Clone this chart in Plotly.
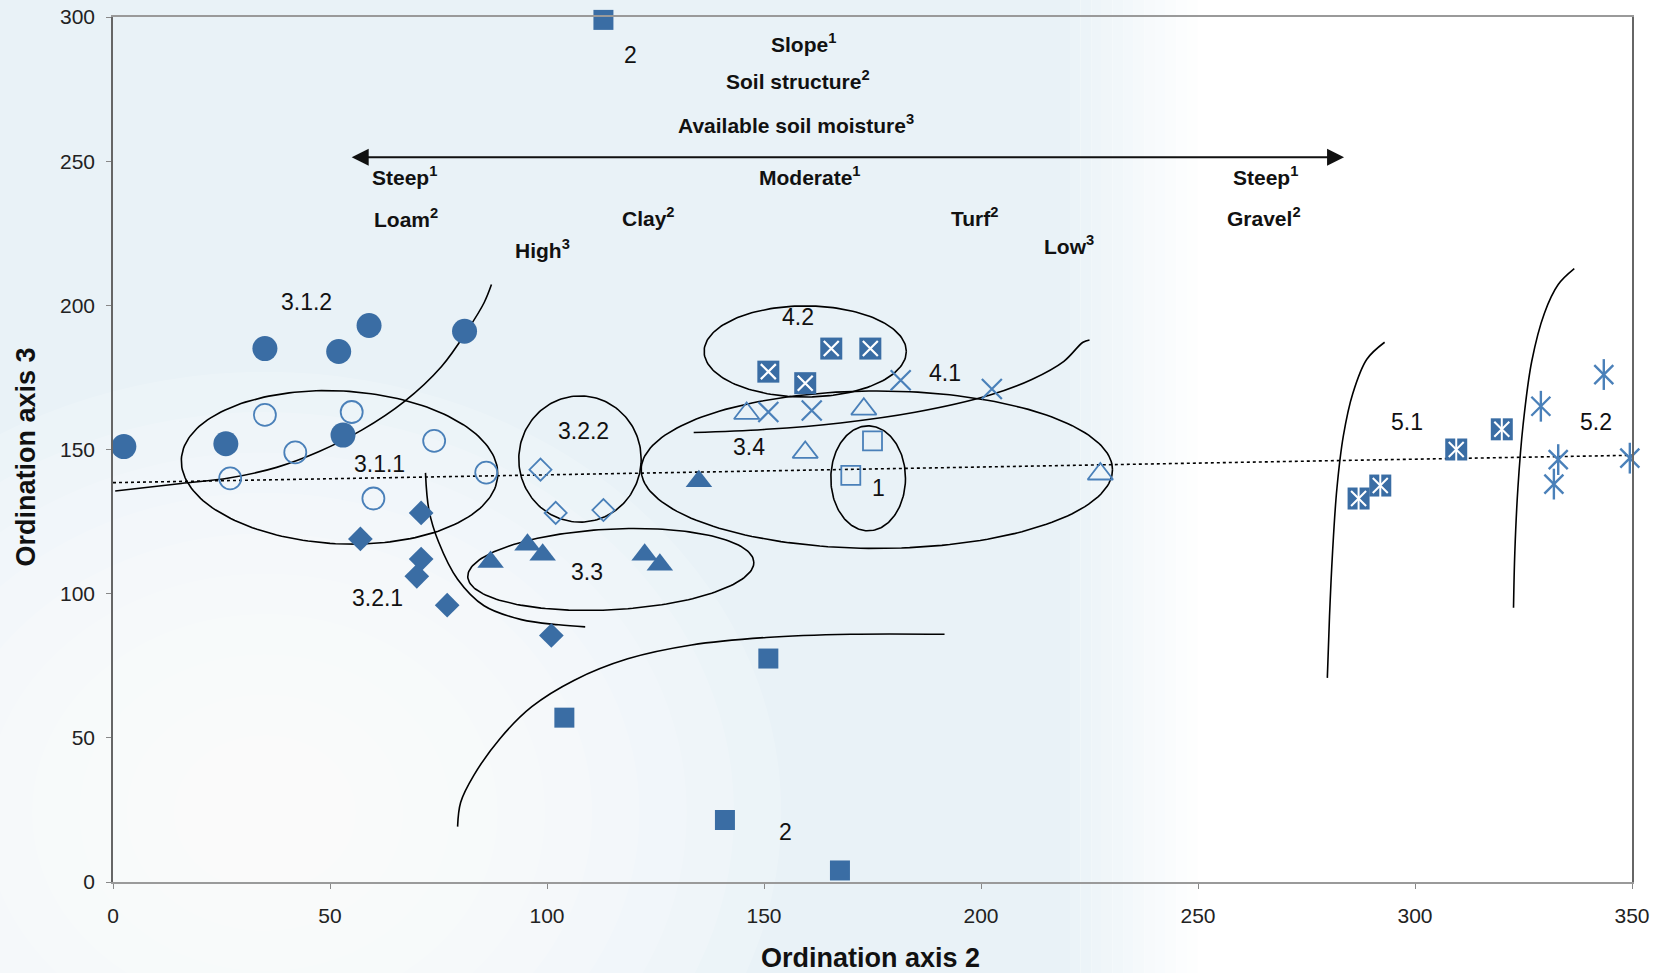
import numpy as np
import plotly.graph_objects as go

# ---------------- data ----------------
circle_filled_x = [2.5, 26, 35, 52, 59, 53, 81]
circle_filled_y = [151, 152, 185, 184, 193, 155, 191]
circle_open_x = [35, 27, 42, 55, 60, 74, 86]
circle_open_y = [162, 140, 149, 163, 133, 153, 142]
diamond_filled_x = [57, 71, 71, 70, 77, 101]
diamond_filled_y = [119, 128, 112, 106, 96, 85.5]
diamond_open_x = [98.5, 102, 113]
diamond_open_y = [143, 128, 129]
tri_filled_x = [87, 95.5, 99, 122.5, 126, 135]
tri_filled_y = [111, 117, 113.5, 113.5, 110, 139]
tri_open_x = [146, 159.5, 173, 227.5]
tri_open_y = [162.5, 149, 164, 141.5]
xmark_x = [151, 161, 181.5, 202.5]
xmark_y = [163, 163.5, 174, 171]
sq_open_x = [170, 175]
sq_open_y = [141, 153]
sq_filled_x = [113, 151, 104, 141, 167.5]
sq_filled_y = [299, 77.5, 57, 21.5, 4]
sqx_x = [151, 159.5, 165.5, 174.5]
sqx_y = [177, 173, 185, 185]
sqstar_x = [287, 292, 309.5, 320]
sqstar_y = [133, 137.5, 150, 157]
star_x = [329, 343.5, 333, 332, 349.5]
star_y = [165, 176, 146.5, 138, 147]

trend_x = [0, 350]
trend_y = [138.5, 148]

# group ellipses: name, centre x, centre y, semi-axis x, semi-axis y, tilt (deg)
ellipses = [
    ("3.1.1", 52.2, 143.8, 36.5, 26.5, -3),
    ("3.2.2", 107.6, 146.7, 14.1, 21.9, 0),
    ("3.3", 114.7, 108.4, 33.0, 14.0, 3),
    ("3.4", 176.0, 143.0, 54.3, 27.3, 0),
    ("4.2", 159.5, 184.0, 23.3, 15.8, 0),
    ("1", 174.0, 140.0, 8.6, 18.2, 0),
]

# hand-drawn boundary curves
curve_a_x = [0.5, 15.7, 26.7, 37.7, 47.5, 57.3, 67.1, 75.7, 81.8, 85.5, 87.2]
curve_a_y = [135.6, 138.2, 140.1, 143.8, 149.3, 156.7, 166.6, 178.8, 191.7, 200.9, 207.2]
curve_b_x = [72.0, 72.8, 75.0, 79.4, 85.5, 94.1, 102.7, 108.8]
curve_b_y = [141.9, 129.0, 118.0, 105.0, 95.8, 91.0, 89.2, 88.5]
curve_c_x = [79.4, 80.1, 83.1, 89.2, 96.5, 106.3, 118.6, 133.3, 150.5, 170.0, 191.6]
curve_c_y = [19.2, 27.6, 36.9, 49.8, 60.8, 70.0, 77.4, 82.2, 84.8, 85.9, 85.9]
curve_d_x = [133.8, 150.5, 167.6, 184.8, 201.9, 211.7, 219.1, 223.5, 225.0]
curve_d_y = [155.9, 157.0, 159.2, 162.9, 168.8, 174.3, 180.6, 187.2, 188.0]
curve_e_x = [279.8, 280.3, 281.0, 282.0, 283.5, 285.7, 288.9, 293.0]
curve_e_y = [70.8, 92.1, 114.3, 136.4, 154.8, 169.6, 181.3, 187.2]
curve_f_x = [322.7, 323.0, 323.7, 324.9, 326.9, 329.8, 333.0, 336.7]
curve_f_y = [95.1, 114.3, 136.4, 158.5, 180.6, 197.2, 207.2, 212.7]

group_labels = ["3.1.2", "3.1.1", "3.2.1", "3.2.2", "3.3", "3.4", "4.2", "4.1", "1", "5.1", "5.2", "2", "2"]
group_label_x = [44.6, 61.3, 61.0, 108.3, 109.3, 146.5, 157.8, 191.6, 176.4, 298.2, 341.6, 119.3, 154.9]
group_label_y = [201, 144.9, 98.4, 156.3, 107.6, 151, 196, 176.6, 136.7, 159.6, 159.6, 286.8, 17.3]

gradient_labels = ["Slope<sup>1</sup>", "Soil structure<sup>2</sup>", "Available soil moisture<sup>3</sup>",
                   "Steep<sup>1</sup>", "Loam<sup>2</sup>", "High<sup>3</sup>", "Clay<sup>2</sup>",
                   "Moderate<sup>1</sup>", "Turf<sup>2</sup>", "Low<sup>3</sup>", "Steep<sup>1</sup>",
                   "Gravel<sup>2</sup>"]
gradient_label_x = [159, 157.8, 157.3, 67.1, 67.6, 99, 123.5, 160.7, 198.5, 220.3, 265.6, 265.1]
gradient_label_y = [291, 278, 262.8, 244.7, 230.4, 219.7, 230.7, 244.7, 230.7, 220.8, 244.7, 230.7]

arrow_x = [55, 284]
arrow_y = 251.4

x_ticks = [0, 50, 100, 150, 200, 250, 300, 350]
y_ticks = [0, 50, 100, 150, 200, 250, 300]

# ---------------- styling ----------------
BLUE = "#3a6da4"
OBLUE = "#4a80b9"
FONT = "Liberation Sans, Arial, sans-serif"
PX_X = 1519.0 / 350.0
PX_Y = 865.0 / 300.0

fig = go.Figure()


def add_pts(x, y, symbol, size, color=BLUE, line_color=None, lw=0, cl=True):
    fig.add_trace(go.Scatter(
        x=x, y=y, mode="markers", cliponaxis=cl, hoverinfo="skip",
        marker=dict(symbol=symbol, size=size, color=color,
                    line=dict(color=line_color or color, width=lw)),
        showlegend=False))


def add_line(x, y, dash="solid", width=1.6, color="black", shape="spline"):
    fig.add_trace(go.Scatter(x=x, y=y, mode="lines", hoverinfo="skip", showlegend=False,
                             line=dict(color=color, width=width, dash=dash, shape=shape)))


# trend line
add_line(trend_x, trend_y, dash="dot", width=1.6, shape="linear")

# ellipses
t = np.linspace(0, 2 * np.pi, 181)
for name, cx, cy, rx, ry, ang in ellipses:
    a = np.deg2rad(ang)
    px = rx * PX_X * np.cos(t)
    py = ry * PX_Y * np.sin(t)
    qx = px * np.cos(a) - py * np.sin(a)
    qy = px * np.sin(a) + py * np.cos(a)
    add_line(cx + qx / PX_X, cy + qy / PX_Y, shape="linear")

for cx_, cy_ in [(curve_a_x, curve_a_y), (curve_b_x, curve_b_y), (curve_c_x, curve_c_y),
                 (curve_d_x, curve_d_y), (curve_e_x, curve_e_y), (curve_f_x, curve_f_y)]:
    add_line(cx_, cy_)

# markers
add_pts(circle_filled_x, circle_filled_y, "circle", 25)
add_pts(circle_open_x, circle_open_y, "circle-open", 22, color=OBLUE, lw=1.8)
add_pts(diamond_filled_x, diamond_filled_y, "diamond", 19)
add_pts(diamond_open_x, diamond_open_y, "diamond-open", 17, color=OBLUE, lw=1.8)
add_pts(tri_filled_x, tri_filled_y, "triangle-up", 23)
add_pts(tri_open_x, tri_open_y, "triangle-up-open", 22, color=OBLUE, lw=1.8)
add_pts(xmark_x, xmark_y, "x-thin-open", 20, color=OBLUE, lw=2.2)
add_pts(sq_open_x, sq_open_y, "square-open", 19, color=OBLUE, lw=1.8)
add_pts(sq_filled_x, sq_filled_y, "square", 20, cl=False)
add_pts(sqx_x, sqx_y, "square", 22)
add_pts(sqx_x, sqx_y, "x-thin-open", 15, color="white", lw=2.2)
add_pts(sqstar_x, sqstar_y, "square", 22)
add_pts(sqstar_x, sqstar_y, "x-thin-open", 15, color="white", lw=2.0)
add_pts(sqstar_x, sqstar_y, "line-ns-open", 17, color="white", lw=2.0)
add_pts(star_x, star_y, "x-thin-open", 19, color=OBLUE, lw=2.4, cl=False)
add_pts(star_x, star_y, "line-ns-open", 22, color=OBLUE, lw=2.4, cl=False)

annotations = []
for txt, x, y in zip(group_labels, group_label_x, group_label_y):
    annotations.append(dict(x=x, y=y, text=txt, showarrow=False, xref="x", yref="y",
                            font=dict(family=FONT, size=23, color="#111")))
for txt, x, y in zip(gradient_labels, gradient_label_x, gradient_label_y):
    annotations.append(dict(x=x, y=y, text="<b>" + txt + "</b>", showarrow=False, xref="x", yref="y",
                            font=dict(family=FONT, size=21, color="#111")))
annotations.append(dict(x=arrow_x[0], y=arrow_y, ax=arrow_x[1], ay=arrow_y, xref="x", yref="y",
                        axref="x", ayref="y", text="", showarrow=True, arrowhead=2,
                        arrowside="end+start", arrowsize=1.7, arrowwidth=2, arrowcolor="#111"))
annotations.append(dict(x=0.499, y=-0.107, xref="paper", yref="paper", showarrow=False,
                        text="<b>Ordination axis 2</b>", font=dict(family=FONT, size=27, color="#111")))
annotations.append(dict(x=-0.0686, y=0.4916, xref="paper", yref="paper", showarrow=False, textangle=-90,
                        text="<b>Ordination axis 3</b>", font=dict(family=FONT, size=27, color="#111")))

# background: light blue scan tint fading to white on the right and lower left
BG = (233, 242, 247)
shapes = [dict(type="rect", xref="paper", yref="paper", x0=-0.1, x1=0.63, y0=-0.12, y1=1.03,
               fillcolor="rgb(%d,%d,%d)" % BG, line=dict(width=0), layer="below")]
steps = 12
for i in range(steps):
    f = (i + 1) / (steps + 1)
    c = tuple(int(round(b + (255 - b) * f)) for b in BG)
    shapes.append(dict(type="rect", xref="paper", yref="paper", x0=0.63 + i * 0.007, x1=0.63 + (i + 1) * 0.007,
                       y0=-0.12, y1=1.03, fillcolor="rgb(%d,%d,%d)" % c, line=dict(width=0), layer="below"))
for r in np.linspace(0.34, 0.06, 10):
    shapes.append(dict(type="circle", xref="paper", yref="paper", x0=0.1 - r, x1=0.1 + r,
                       y0=0.08 - r * 1.5, y1=0.08 + r * 1.5, fillcolor="white", opacity=0.16,
                       line=dict(width=0), layer="below"))

axis_common = dict(showgrid=False, zeroline=False, showline=True, mirror=True, linecolor="#9a9a9a",
                   linewidth=1.5, ticks="outside", ticklen=5, tickcolor="#888", automargin=False,
                   tickfont=dict(family=FONT, size=21, color="#222"))

fig.update_layout(
    width=1667, height=973,
    margin=dict(l=113, r=35, t=17, b=91),
    paper_bgcolor="white", plot_bgcolor="rgba(0,0,0,0)",
    showlegend=False,
    annotations=annotations, shapes=shapes,
    xaxis=dict(range=[0, 350], tickvals=x_ticks, ticklabelstandoff=9, **axis_common),
    yaxis=dict(range=[0, 300], tickvals=y_ticks, ticklabelstandoff=7, **axis_common),
)
fig.update_yaxes(linecolor="#666")

fig.write_html("out.html", config={"displayModeBar": False},
               post_script="document.body.style.margin='0';document.body.style.overflow='hidden';")
